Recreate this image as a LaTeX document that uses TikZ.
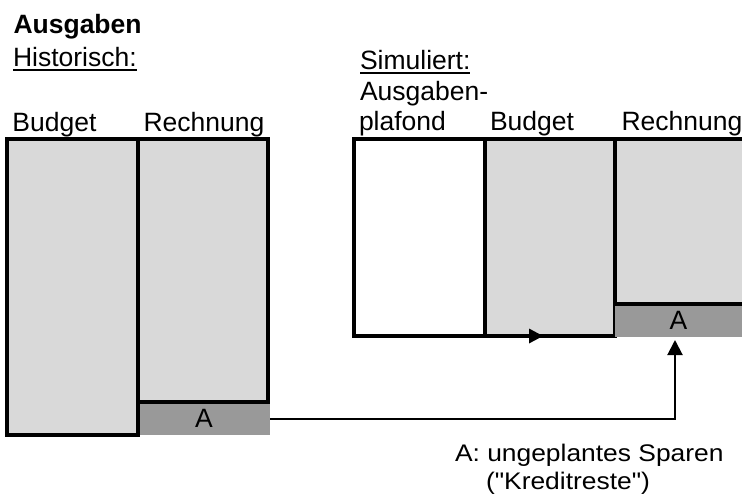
\documentclass[tikz,border=0pt]{standalone}
\usepackage{fontspec}
\setmainfont{Liberation Sans}
\newfontfamily\legendfont[FakeStretch=1.1]{Liberation Sans}
\usetikzlibrary{arrows.meta,calc}
\definecolor{lgray}{RGB}{217,217,217}
\definecolor{dgray}{RGB}{153,153,153}
\tikzset{
  lbl/.style={anchor=base west, inner sep=0pt, outer sep=0pt, font=\fontsize{26.5pt}{32pt}\selectfont},
  leg/.style={anchor=base west, inner sep=0pt, outer sep=0pt, font=\legendfont\fontsize{24pt}{29pt}\selectfont},
  colbox/.style={draw, line width=3.8pt, inner sep=0pt, outer sep=0pt, anchor=north west},
  abox/.style={fill=dgray, draw=none, inner sep=0pt, outer sep=0pt, anchor=north west, font=\fontsize{26.5pt}{32pt}\selectfont},
  uline/.style={line width=2pt},
  conn/.style={line width=2pt, -{Triangle[length=15pt,width=15pt]}}
}
\begin{document}
\begin{tikzpicture}[x=1pt,y=-1pt]
\useasboundingbox (0,0) rectangle (742,498);

% titles
\node[lbl, font=\bfseries\fontsize{26.5pt}{32pt}\selectfont] (title) at (13.5,33.3) {Ausgaben};
\node[lbl] (hist) at (13,66.7) {Historisch:};
\draw[uline] ($(hist.base west)+(0,3.2)$) -- ($(hist.base east)+(0,3.2)$);
\node[lbl] (sim) at (360,69.5) {Simuliert:};
\draw[uline] ($(sim.base west)+(0,3)$) -- ($(sim.base east)+(0,3)$);

% column labels
\node[lbl] (lhb) at (12.5,131.7) {Budget};
\node[lbl] (lhr) at (143.5,131.7) {Rechnung};
\node[lbl] (lsp1) at (360,100) {Ausgaben-};
\node[lbl] (lsp2) at (359,130.7) {plafond};
\node[lbl] (lsb) at (490,130.7) {Budget};
\node[lbl] (lsr) at (621.5,130.7) {Rechnung};

% historical columns
\node[abox, minimum width=132pt, minimum height=33pt] (hA) at (138,402) {A};
\node[colbox, fill=lgray, minimum width=131pt, minimum height=296pt] (hbud) at (7,139) {};
\node[colbox, fill=lgray, minimum width=130pt, minimum height=263pt] (hrech) at (138,139) {};

% simulated columns
\node[colbox, fill=white, minimum width=131pt, minimum height=197pt] (splaf) at (354,139) {};
\node[colbox, fill=lgray, minimum width=130pt, minimum height=197pt] (sbud) at (485,139) {};
\node[abox, minimum width=127pt, minimum height=33pt] (sA) at (615,304) {A};
\node[fill=lgray, draw=none, inner sep=0pt, outer sep=0pt, anchor=north west, minimum width=127pt, minimum height=165pt] (srech) at (615,139) {};
\draw[line width=3.8pt] (srech.north east) -- (srech.north west) -- (srech.south west) -- (srech.south east);

% arrowhead on the budget bottom line
\coordinate (midtip) at ($(sbud.south west)+(58,0)$);
\fill (midtip) -- ++(-14,-7.5) -- ++(0,15) -- cycle;

% connector
\coordinate (tipA) at (675,340);
\draw[conn] (hA.east) -| (tipA);

% legend
\node[leg] (legA) at (455,461) {A: ungeplantes Sparen};
\node[leg] (legB) at (486,489) {("Kreditreste")};
\end{tikzpicture}
\end{document}
